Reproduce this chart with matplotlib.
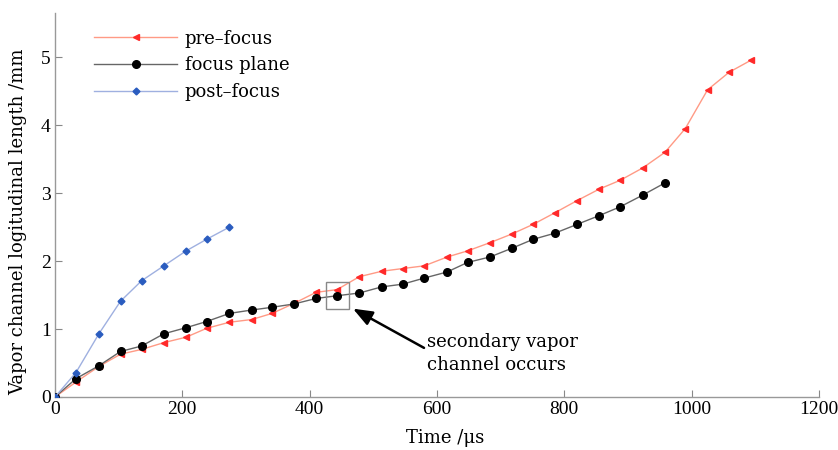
import matplotlib
matplotlib.use("Agg")
import matplotlib.pyplot as plt
from matplotlib.patches import Rectangle

# ---- data ----
t_pre = [0, 33, 69, 103, 136, 171, 206, 238, 274, 309, 341, 376, 410, 443, 478, 513,
         546, 580, 616, 648, 683, 718, 751, 785, 820, 855, 888, 923, 958, 990, 1025, 1059, 1094]
pre_focus = [0, 0.22, 0.45, 0.63, 0.70, 0.80, 0.88, 1.01, 1.10, 1.14, 1.23, 1.38, 1.54, 1.58,
             1.77, 1.85, 1.89, 1.93, 2.06, 2.15, 2.27, 2.40, 2.54, 2.71, 2.89, 3.06, 3.19,
             3.37, 3.60, 3.95, 4.52, 4.78, 4.96]
t_focus = [0, 33, 69, 103, 136, 171, 206, 238, 274, 309, 341, 376, 410, 443, 478, 513,
           546, 580, 616, 648, 683, 718, 751, 785, 820, 855, 888, 923, 958]
focus_plane = [0, 0.27, 0.46, 0.67, 0.75, 0.93, 1.02, 1.11, 1.23, 1.28, 1.32, 1.37, 1.45,
               1.49, 1.53, 1.62, 1.66, 1.75, 1.84, 1.98, 2.06, 2.19, 2.32, 2.41, 2.54,
               2.67, 2.80, 2.97, 3.15]
t_post = [0, 33, 69, 103, 136, 171, 206, 238, 274]
post_focus = [0, 0.36, 0.93, 1.41, 1.71, 1.93, 2.15, 2.32, 2.50]

series_labels = ["pre\u2013focus", "focus plane", "post\u2013focus"]
x_ticks = [0, 200, 400, 600, 800, 1000, 1200]
y_ticks = [0, 1, 2, 3, 4, 5]
x_label = "Time /\u03bcs"
y_label = "Vapor channel logitudinal length /mm"
annot_text = "secondary vapor\nchannel occurs"

plt.rcParams['font.family'] = ['DejaVu Serif']

FS = 13

fig = plt.figure(figsize=(8.38, 4.5), dpi=100)
ax = fig.add_axes([0.0656, 0.1178, 0.9773 - 0.0656, 0.971 - 0.1178])

ax.plot(t_pre, pre_focus, color='#ff9a85', lw=1.0, marker='<', ms=4.5,
        mfc='#ff2a2a', mec='#ff2a2a', label=series_labels[0], zorder=3)
ax.plot(t_focus, focus_plane, color='#666666', lw=1.0, marker='o', ms=5.5,
        mfc='black', mec='black', label=series_labels[1], zorder=4)
ax.plot(t_post, post_focus, color='#9fb0e0', lw=1.0, marker='D', ms=3.5,
        mfc='#2a5cbf', mec='#2a5cbf', label=series_labels[2], zorder=5)

ax.set_xlim(0, 1200)
ax.set_ylim(0, 5.65)
ax.set_xticks(x_ticks)
ax.set_yticks(y_ticks)
ax.tick_params(direction='in', length=5, width=0.8, color='#888888', pad=3)
for lab in ax.get_xticklabels() + ax.get_yticklabels():
    lab.set_fontfamily('Liberation Serif')
    lab.set_fontsize(14)
for s in ['top', 'right']:
    ax.spines[s].set_visible(False)
for s in ['left', 'bottom']:
    ax.spines[s].set_color('#999999')
    ax.spines[s].set_linewidth(1.0)

ax.set_xlabel(x_label, fontsize=FS)
ax.set_ylabel(y_label, fontsize=FS)
ax.xaxis.set_label_coords(0.511, -0.084)
ax.yaxis.set_label_coords(-0.037, 0.456)

leg = ax.legend(loc='upper left', bbox_to_anchor=(0.035, 0.99), frameon=False,
                fontsize=FS, handlelength=4.6, handletextpad=0.4,
                labelspacing=0.48, borderaxespad=0.3)

ax.add_patch(Rectangle((426, 1.29), 36, 0.40, fill=False, edgecolor='#888888',
                       lw=1.0, zorder=6))
ax.annotate(annot_text, xy=(468, 1.30), xytext=(584, 0.64),
            fontsize=FS, ha='left', va='center', linespacing=1.35,
            arrowprops=dict(arrowstyle='-|>,head_length=0.9,head_width=0.35',
                            color='black', lw=1.8, shrinkA=0, shrinkB=0,
                            relpos=(0.0, 0.6)))

fig.savefig("out.png", dpi=100)
